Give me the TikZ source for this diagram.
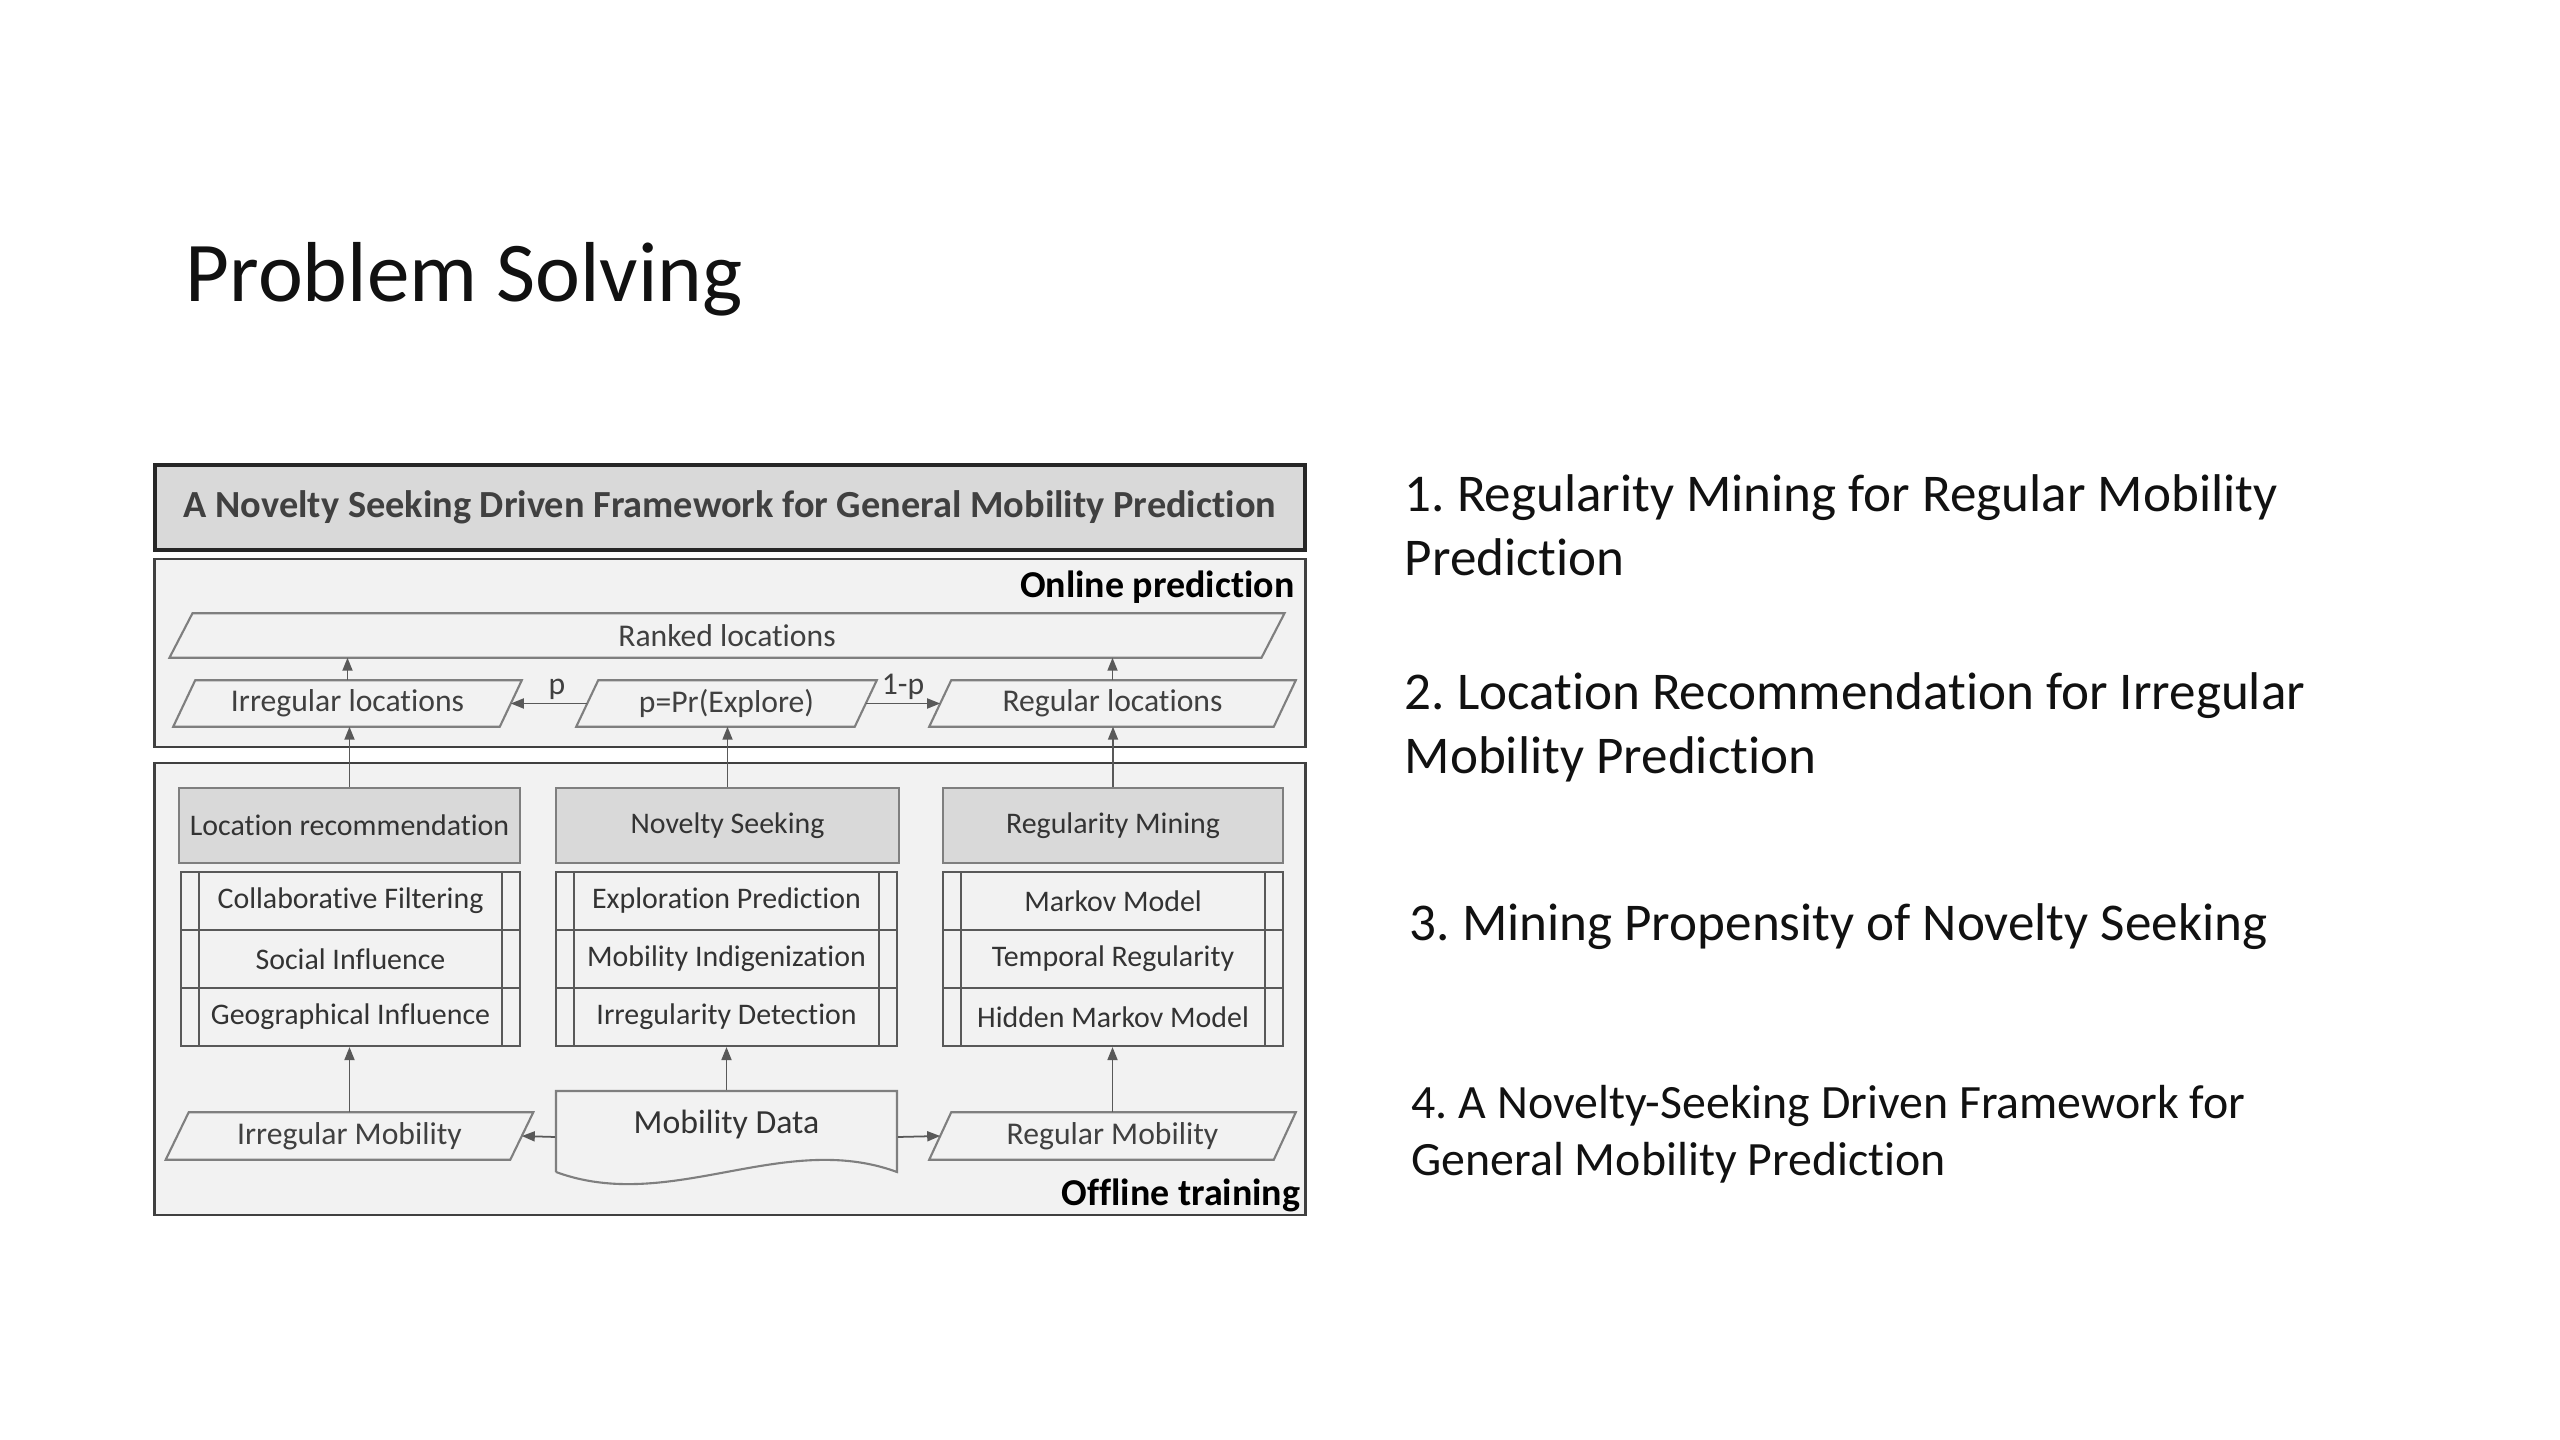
\documentclass[tikz,border=0pt]{standalone}
\usepackage{fontspec}
\setmainfont{Carlito}[Ligatures=NoCommon]
\usetikzlibrary{arrows.meta,calc}
\definecolor{bgc}{HTML}{F2F2F2}
\definecolor{hdr}{HTML}{D9D9D9}
\definecolor{txt}{HTML}{404040}
\definecolor{lnc}{HTML}{595959}
\definecolor{plc}{HTML}{7F7F7F}
\definecolor{ink}{HTML}{111111}
\frenchspacing
\begin{document}
\begin{tikzpicture}[x=0.01cm,y=-0.01cm,
  frame/.style={draw=black!75, fill=bgc, line width=0.7pt, minimum width=11.5cm},
  para/.style={inner sep=0pt, font=\fontsize{9}{10}\selectfont, text=txt},
  parabox/.style={draw=plc, line width=0.6pt},
  hdrbox/.style={draw=plc, fill=hdr, line width=0.7pt, minimum height=0.75cm, font=\fontsize{8.5}{10}\selectfont, text=black!80, inner sep=0pt},
  rowbox/.style={draw=lnc, fill=bgc, line width=0.6pt, minimum height=0.58cm, font=\fontsize{8.5}{10}\selectfont, text=black!80, inner sep=0pt,
    path picture={\draw[lnc, line width=0.6pt]
      ([xshift=0.18cm]path picture bounding box.north west) -- ([xshift=0.18cm]path picture bounding box.south west)
      ([xshift=-0.18cm]path picture bounding box.north east) -- ([xshift=-0.18cm]path picture bounding box.south east);}},
  arr/.style={draw=lnc, line width=0.5pt, -{Triangle[length=0.13cm,width=0.1cm]}},
  lbl/.style={font=\fontsize{9}{10}\selectfont, text=txt, inner sep=1pt},
  item/.style={anchor=west, align=left, inner sep=0pt, text=ink, font=\fontsize{15.1}{18.2}\selectfont}
]
\fill[white] (0,0) rectangle (2560,1440);
\useasboundingbox (0,0) rectangle (2560,1440);

\node[anchor=base west, inner sep=0pt, text=ink, font=\fontsize{24.2}{29}\selectfont] (pstitle) at (185,302) {Problem Solving};

% frames
\node[draw=black!85, fill=hdr, line width=1.2pt, minimum width=11.5cm, minimum height=0.85cm,
      font=\bfseries\fontsize{10.9}{12}\selectfont, text=txt] (title) at (730,507.5)
      {A Novelty Seeking Driven Framework for General Mobility Prediction};
\node[frame, minimum height=1.88cm] (online) at (730,653) {};
\node[frame, minimum height=4.52cm] (offline) at (730,989) {};
\node[anchor=east, inner sep=0pt, font=\bfseries\fontsize{10.8}{12}\selectfont] (onl) at (1295,587) {Online prediction};
\node[anchor=east, inner sep=0pt, font=\bfseries\fontsize{10.8}{12}\selectfont] (offl) at (1301,1195) {Offline training};

% parallelogram nodes
\node[para, minimum width=10.9cm, minimum height=0.43cm] (ranked) at (727,635.5) {Ranked locations};
\node[para, minimum width=3.25cm, minimum height=0.45cm] (irrloc) at (347.5,703.5) {Irregular locations};
\node[para, minimum width=2.77cm, minimum height=0.45cm] (explore) at (726.5,703.5) {p=Pr(Explore)};
\node[para, minimum width=3.43cm, minimum height=0.45cm] (regloc) at (1112.5,703.5) {Regular locations};
\node[para, minimum width=3.43cm, minimum height=0.46cm] (irrmob) at (349.5,1136) {Irregular Mobility};
\node[para, minimum width=3.43cm, minimum height=0.46cm] (regmob) at (1112.5,1136) {Regular Mobility};
\foreach \n/\d in {ranked/23, irrloc/22, explore/22, regloc/22, irrmob/23, regmob/22}
  \draw[parabox] ($(\n.north west)+(\d/2,0)$) -- ($(\n.north east)+(\d/2,0)$)
     -- ($(\n.south east)-(\d/2,0)$) -- ($(\n.south west)-(\d/2,0)$) -- cycle;

% header boxes
\node[hdrbox, minimum width=3.41cm] (locrec) at (349.5,825.5) {Location recommendation};
\node[hdrbox, minimum width=3.43cm] (novelty) at (727.5,825.5) {Novelty Seeking};
\node[hdrbox, minimum width=3.40cm] (regmin) at (1113,825.5) {Regularity Mining};

% rows
\node[rowbox, minimum width=3.39cm] (cf) at (350.5,901) {Collaborative Filtering};
\node[rowbox, minimum width=3.39cm] (si) at (350.5,959) {Social Influence};
\node[rowbox, minimum width=3.39cm] (gi) at (350.5,1017) {Geographical Influence};
\node[rowbox, minimum width=3.41cm] (ep) at (726.5,901) {Exploration Prediction};
\node[rowbox, minimum width=3.41cm] (mi) at (726.5,959) {Mobility Indigenization};
\node[rowbox, minimum width=3.41cm] (id) at (726.5,1017) {Irregularity Detection};
\node[rowbox, minimum width=3.40cm] (mm) at (1113,901) {Markov Model};
\node[rowbox, minimum width=3.40cm] (tr) at (1113,959) {Temporal Regularity};
\node[rowbox, minimum width=3.40cm] (hmm) at (1113,1017) {Hidden Markov Model};

% mobility data (document shape)
\node[minimum width=3.41cm, minimum height=0.92cm, inner sep=0pt,
      label={[yshift=0.12cm, font=\fontsize{9.6}{11}\selectfont, text=black!80]center:Mobility Data}] (mobdata) at (726.5,1137) {};
\draw[draw=plc, line width=0.6pt] (556,1172) -- (556,1091) -- (897,1091) -- (897,1172)
   .. controls (783,1130) and (670,1214) .. (556,1172);

% connectors
\draw[arr] (locrec.north) -- (locrec.north |- irrloc.south);
\draw[arr] (irrloc.north) -- (irrloc.north |- ranked.south);
\draw[arr] (explore.west) -- node[lbl, above, xshift=0.08cm]{p} (irrloc.east);
\draw[arr] (explore.east) -- node[lbl, above]{1-p} (regloc.west);
\draw[arr] (novelty.north) -- (novelty.north |- explore.south);
\draw[arr] (regmin.north) -- (regmin.north |- regloc.south);
\draw[arr] (regloc.north) -- (regloc.north |- ranked.south);
\draw[arr] (irrmob.north) -- (irrmob.north |- gi.south);
\draw[arr] (mobdata.north) -- (mobdata.north |- id.south);
\draw[arr] (regmob.north) -- (regmob.north |- hmm.south);
\draw[arr] (mobdata.west) -- (irrmob.east);
\draw[arr] (mobdata.east) -- (regmob.west);

% right-hand list
\node[item] (it1) at (1404,525) {1. Regularity Mining for Regular Mobility\\Prediction};
\node[item] (it2) at (1404,727.5) {2. Location Recommendation for Irregular\\Mobility Prediction};
\node[item] (it3) at (1409,927) {3. Mining Propensity of Novelty Seeking};
\node[item, font=\fontsize{13.6}{16.2}\selectfont] (it4) at (1411,1134) {4. A Novelty-Seeking Driven Framework for\\General Mobility Prediction};
\end{tikzpicture}
\end{document}
